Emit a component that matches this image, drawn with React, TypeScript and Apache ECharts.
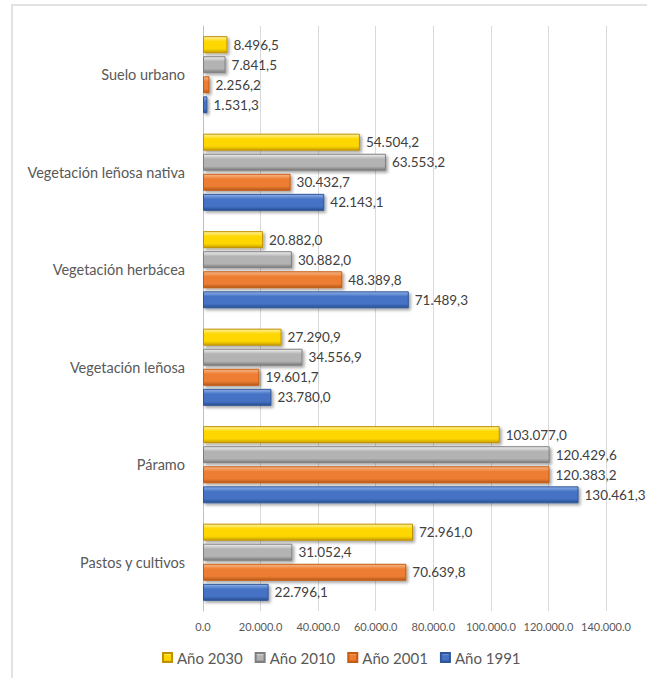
import React, { useEffect, useRef } from "react";
import * as echarts from "echarts";

const categories = [
  "Pastos y cultivos",
  "Páramo",
  "Vegetación leñosa",
  "Vegetación herbácea",
  "Vegetación leñosa nativa",
  "Suelo urbano",
];
const year1991 = [22796.1, 130461.3, 23780.0, 71489.3, 42143.1, 1531.3];
const year2001 = [70639.8, 120383.2, 19601.7, 48389.8, 30432.7, 2256.2];
const year2010 = [31052.4, 120429.6, 34556.9, 30882.0, 63553.2, 7841.5];
const year2030 = [72961.0, 103077.0, 27290.9, 20882.0, 54504.2, 8496.5];
const legendOrder = ["Año 2030", "Año 2010", "Año 2001", "Año 1991"];

const FONT = "Lato, 'Noto Sans', sans-serif";

function thousands(n: number): string {
  const s = Math.floor(Math.abs(n)).toString();
  return s.replace(/\B(?=(\d{3})+(?!\d))/g, ".");
}
function fmtLabel(v: number): string {
  const fixed = v.toFixed(1);
  const dec = fixed.split(".")[1];
  return thousands(v) + "," + dec;
}
function fmtAxis(v: number): string {
  return thousands(v) + ".0";
}

function grad(top: string, mid: string, bot: string) {
  return new echarts.graphic.LinearGradient(0, 0, 0, 1, [
    { offset: 0, color: top },
    { offset: 0.3, color: mid },
    { offset: 0.75, color: mid },
    { offset: 1, color: bot },
  ]);
}

export default function App() {
  const ref = useRef<HTMLDivElement>(null);
  useEffect(() => {
    document.body.style.margin = "0";
    if (!ref.current) return;
    const chart = echarts.init(ref.current, undefined, { renderer: "svg" });
    const mk = (name: string, data: number[], g: any, border: string) => ({
      name,
      type: "bar",
      data,
      barWidth: 17,
      barGap: "18%",
      itemStyle: {
        color: g,
        borderColor: border,
        borderWidth: 1,
        shadowColor: "rgba(0,0,0,0.35)",
        shadowBlur: 3,
        shadowOffsetX: 2,
        shadowOffsetY: 2,
      },
      label: {
        show: true,
        position: "right",
        distance: 6,
        formatter: (p: any) => fmtLabel(p.value),
        color: "#404040",
        fontSize: 13.5,
        fontFamily: FONT,
      },
    });
    chart.setOption({
      animation: false,
      backgroundColor: "#ffffff",
      graphic: [
        {
          type: "rect",
          shape: { x: 12, y: 5, width: 700, height: 700 },
          style: { fill: "none", stroke: "#d9d9d9", lineWidth: 1.5 },
          silent: true,
        },
      ],
      grid: { left: 203, right: 41, top: 26, bottom: 67, containLabel: false },
      legend: {
        data: legendOrder,
        left: 157,
        top: 645,
        icon: "rect",
        itemWidth: 9,
        itemHeight: 9,
        itemGap: 12,
        textStyle: { color: "#595959", fontSize: 15, fontFamily: FONT },
      },
      xAxis: {
        type: "value",
        min: 0,
        max: 140000,
        interval: 20000,
        axisLine: { show: false },
        axisTick: { show: false },
        axisLabel: {
          formatter: (v: number) => fmtAxis(v),
          color: "#595959",
          fontSize: 11,
          fontFamily: FONT,
          margin: 10,
        },
        splitLine: { show: true, lineStyle: { color: "#d9d9d9", width: 1 } },
      },
      yAxis: {
        type: "category",
        data: categories,
        axisLine: { show: true, lineStyle: { color: "#bfbfbf" } },
        axisTick: { show: false },
        axisLabel: {
          color: "#595959",
          fontSize: 14.5,
          fontFamily: FONT,
          margin: 18,
        },
      },
      series: [
        mk("Año 2030", year2030, grad("#fff3a0", "#ffd700", "#c9a000"), "#bf9000"),
        mk("Año 2010", year2010, grad("#f0f0f0", "#b3b3b3", "#7a7a7a"), "#7f7f7f"),
        mk("Año 2001", year2001, grad("#f7b98a", "#ed7d31", "#b45a1c"), "#c55a11"),
        mk("Año 1991", year1991, grad("#8fb0ea", "#4472c4", "#2a4f91"), "#2f5597"),
      ],
    });
    return () => chart.dispose();
  }, []);
  return <div ref={ref} style={{ width: 647, height: 678 }} />;
}
